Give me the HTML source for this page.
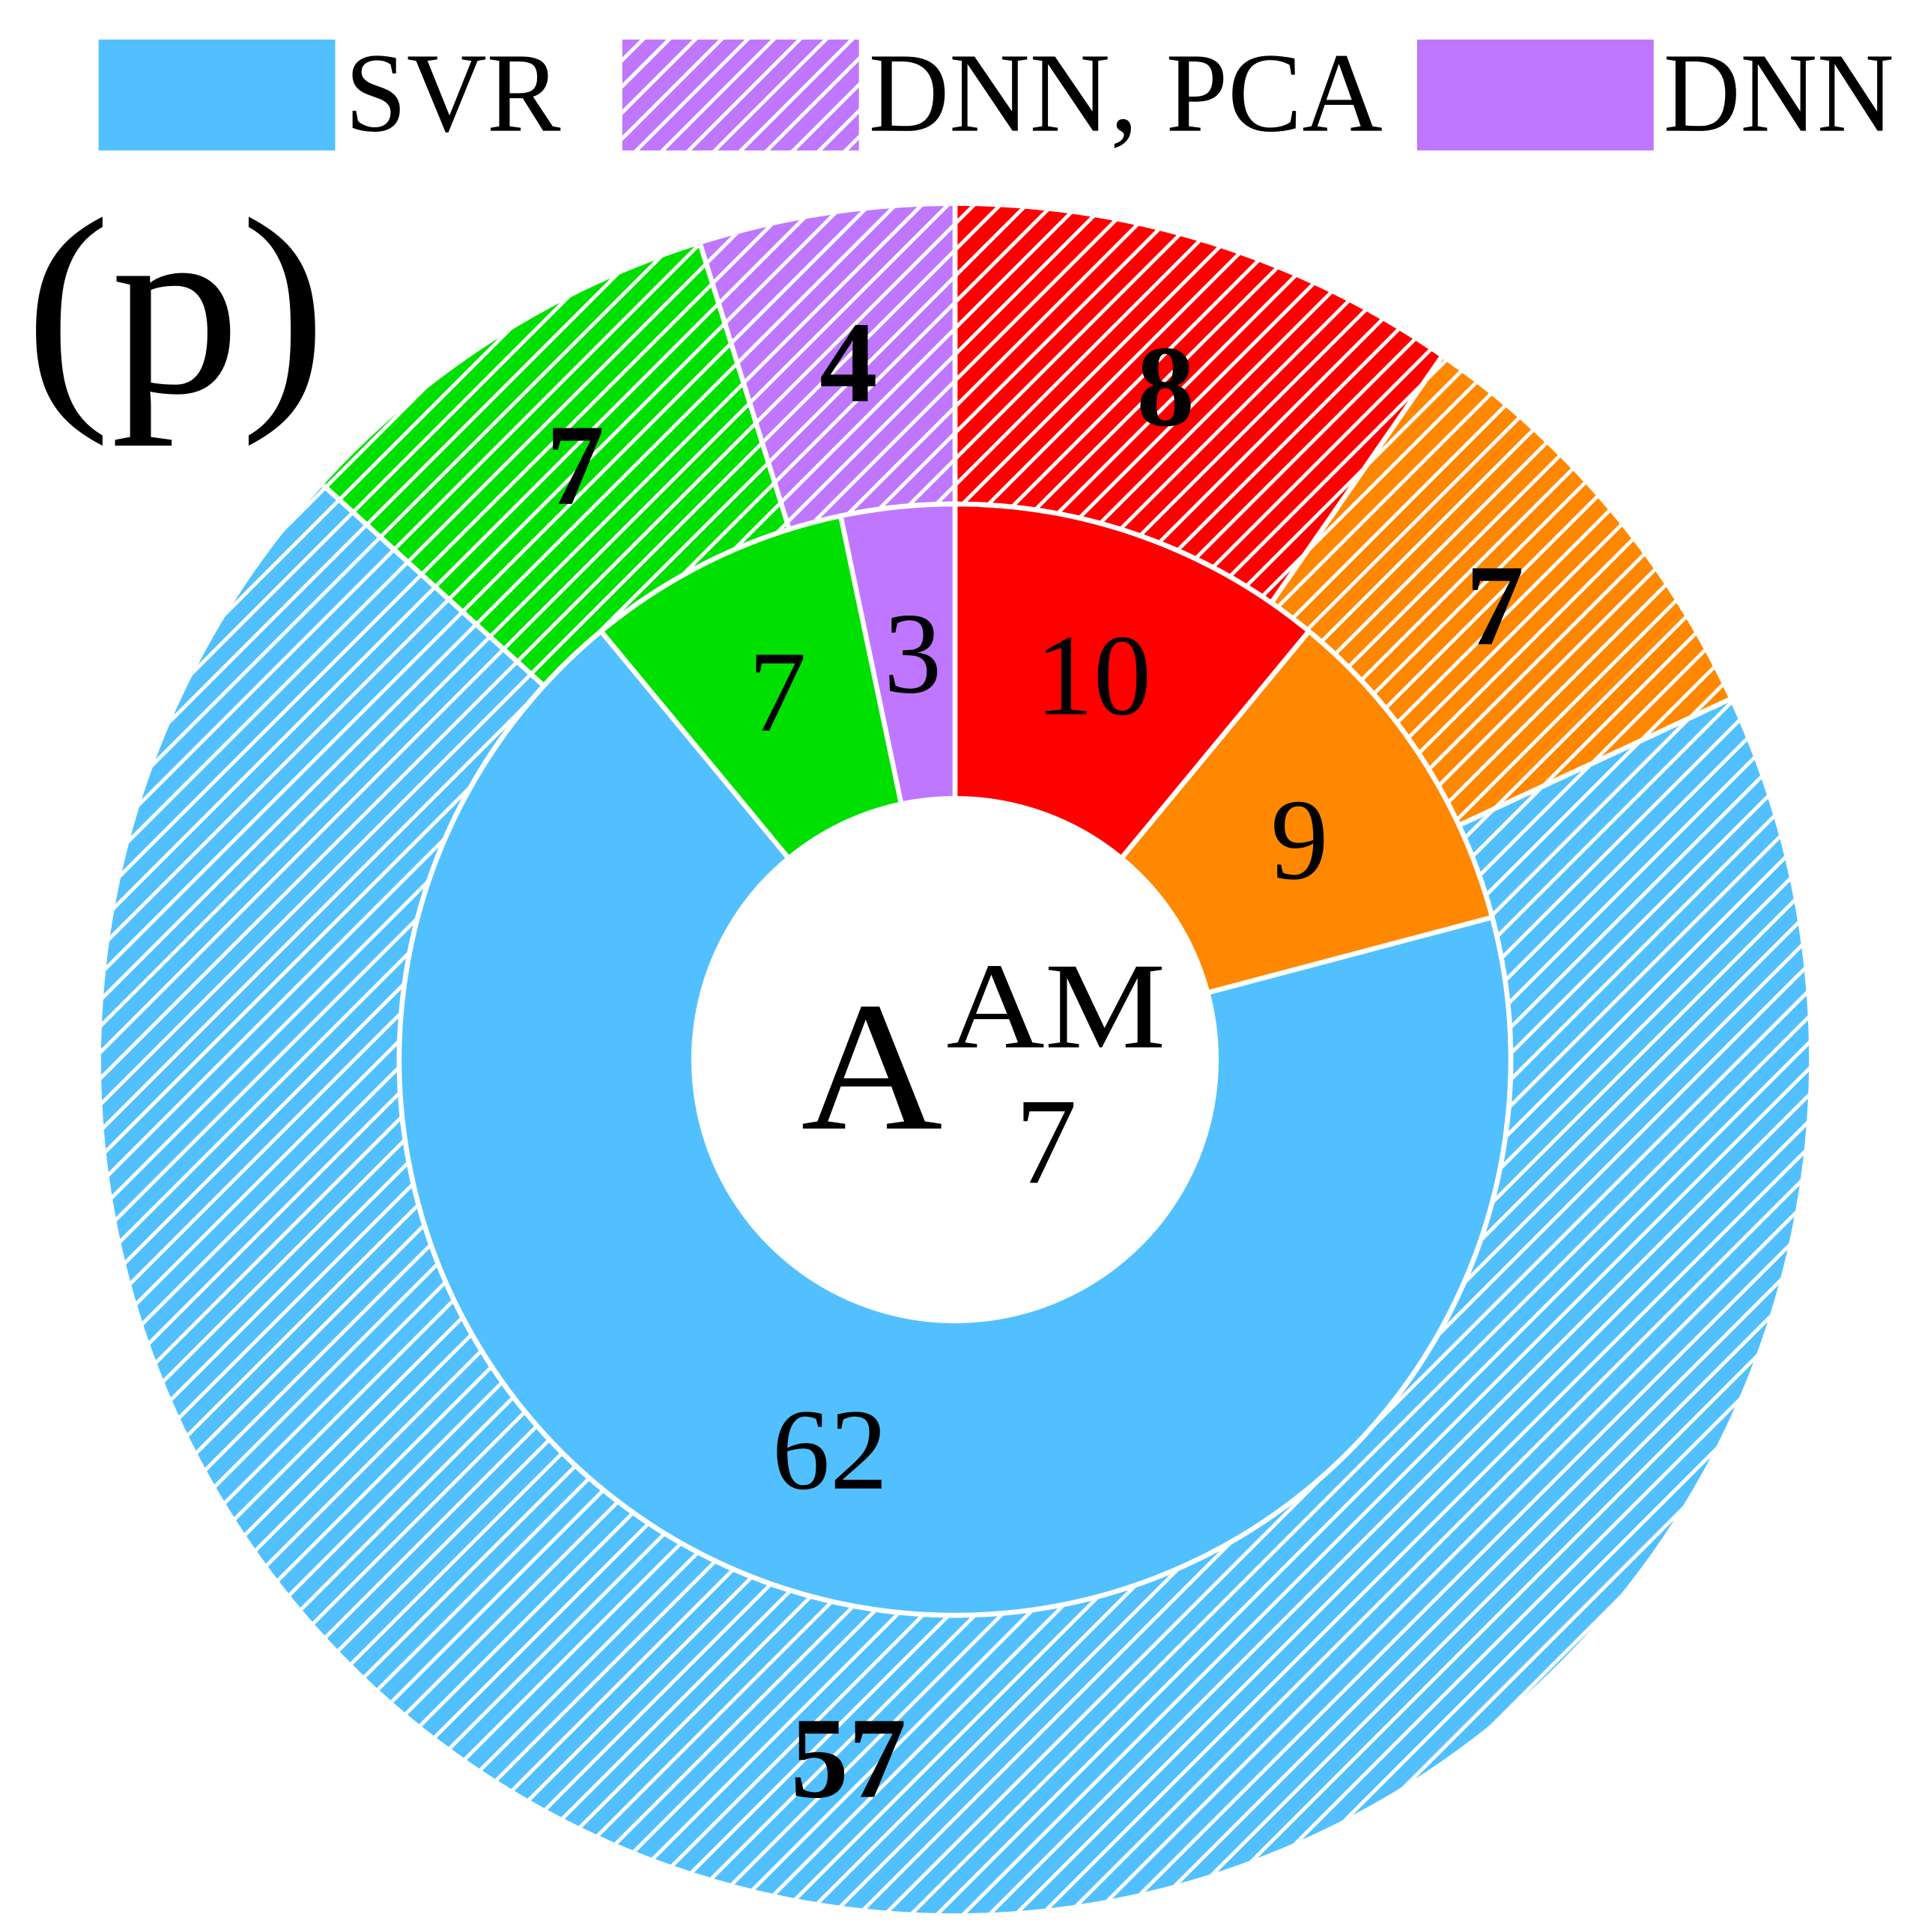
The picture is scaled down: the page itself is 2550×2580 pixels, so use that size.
<!DOCTYPE html>
<html><head><meta charset="utf-8"><style>
html,body{margin:0;padding:0;background:#fff;}
svg, svg text{font-family:"Liberation Serif","Times New Roman",Times,serif;}
svg{display:block;}
</style></head><body>
<svg id="chart" width="2550" height="2580" viewBox="0 0 1550 1568" xmlns="http://www.w3.org/2000/svg">
<defs id="defs"></defs>
<g id="legend"></g>
<text x="20" y="318" font-size="205" textLength="245" lengthAdjust="spacingAndGlyphs">(p)</text>
<g id="rings"></g>
<g>
<text x="650" y="916" font-size="150" textLength="115" lengthAdjust="spacingAndGlyphs">A</text>
<text x="768" y="850" font-size="100" textLength="178" lengthAdjust="spacingAndGlyphs">AM</text>
<text x="824" y="960" font-size="100">7</text>
</g>
</svg>
<script>
const categories = ['red','orange','SVR','green','DNN'];
const innerValues = [10, 9, 62, 7, 3];
const outerValues = [8, 7, 57, 7, 4];
const colors = ['#FF0000','#FF8800','#52C0FF','#00E000','#BF77FF'];
const legendLabels = ['SVR','DNN, PCA','DNN'];

const NS='http://www.w3.org/2000/svg';
const cx=775, cy=860;
const defs=document.getElementById('defs');
function mk(tag,attrs,parent){const e=document.createElementNS(NS,tag);for(const k in attrs)e.setAttribute(k,attrs[k]);parent.appendChild(e);return e;}
function hatch(id,color){
  const p=mk('pattern',{id:id,patternUnits:'userSpaceOnUse',width:15,height:15,patternTransform:'rotate(45)'},defs);
  mk('rect',{x:0,y:0,width:15,height:15,fill:color},p);
  mk('rect',{x:0,y:0,width:3,height:15,fill:'#fff'},p);
}
colors.forEach((c,i)=>hatch('h'+i,c));
function pt(r,a){return [cx+r*Math.sin(a), cy-r*Math.cos(a)];}
function wedge(r0,r1,a0,a1){
  const large=(a1-a0)>Math.PI?1:0;
  const p0=pt(r1,a0),p1=pt(r1,a1),p2=pt(r0,a1),p3=pt(r0,a0);
  return `M${p0[0]},${p0[1]} A${r1},${r1} 0 ${large} 1 ${p1[0]},${p1[1]} L${p2[0]},${p2[1]} A${r0},${r0} 0 ${large} 0 ${p3[0]},${p3[1]} Z`;
}
const rings=document.getElementById('rings');
function ring(values,r0,r1,hatched,labelR,bold){
  const tot=values.reduce((a,b)=>a+b,0);
  let a=0;
  values.forEach((v,i)=>{
    const a1=a+v/tot*2*Math.PI;
    const path=mk('path',{d:wedge(r0,r1,a,a1),fill:hatched?'url(#h'+i+')':colors[i],stroke:'#fff','stroke-width':4},rings);
    
    
    const m=(a+a1)/2, p=pt(labelR,m);
    const t=mk('text',{x:p[0],y:p[1]+32,'text-anchor':'middle','font-size':94,'font-weight':bold?'bold':'normal',fill:'#000'},rings);
    t.textContent=v;
    
    
    a=a1;
  });
}
ring(outerValues,451,695,true,573,true);
ring(innerValues,212,451,false,332,false);

const lg=document.getElementById('legend');
const lx=[80,505,1150], lfill=[colors[2],'url(#h4)',colors[4]], lw=[175,417,187];
legendLabels.forEach((l,i)=>{
  const r=mk('rect',{x:lx[i],y:32,width:192,height:90,fill:lfill[i]},lg);
  
  
  const t=mk('text',{x:lx[i]+200,y:106,'font-size':92,textLength:lw[i],lengthAdjust:'spacingAndGlyphs'},lg);
  t.textContent=l;
  
  
});
</script>
</body></html>
